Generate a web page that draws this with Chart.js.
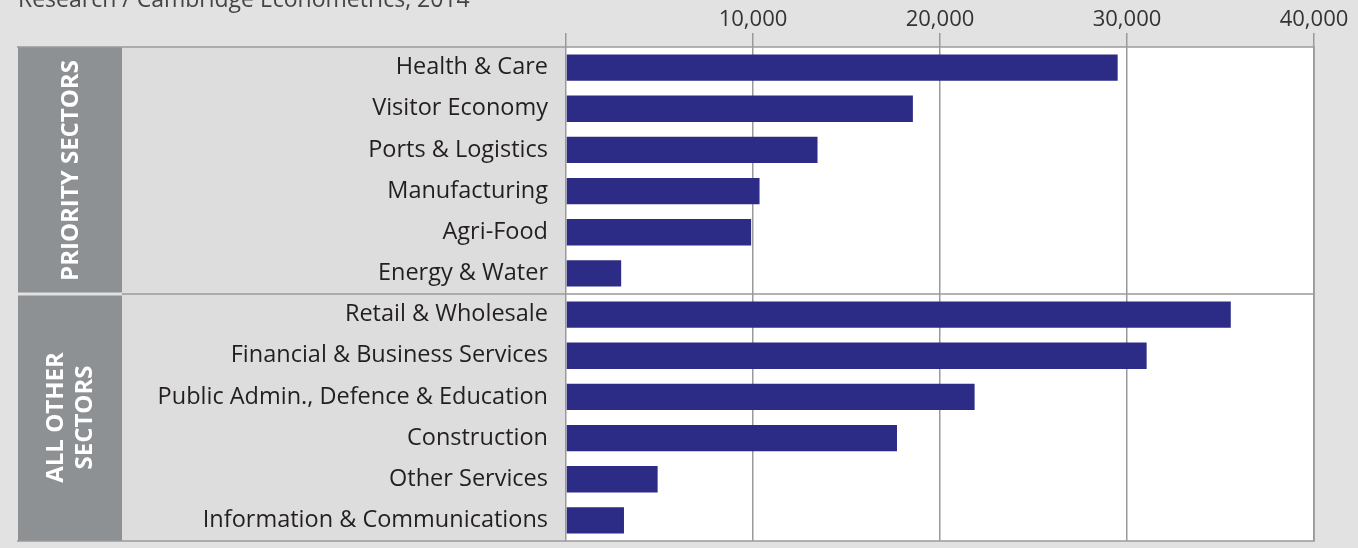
<!DOCTYPE html>
<html lang="en">
<head>
    <meta charset="UTF-8">
    <title>Employment by Sector</title>
    <script src="https://cdn.jsdelivr.net/npm/chart.js"></script>
    <style>
        body, html {
            margin: 0;
            padding: 0;
            background: #e2e2e2;
        }
        canvas { display: block; }
    </style>
</head>
<body>
    <canvas id="chart" width="1358" height="548"></canvas>

    <script>
        // Data
        const sectors = [
            'Health & Care', 'Visitor Economy', 'Ports & Logistics', 'Manufacturing',
            'Agri-Food', 'Energy & Water', 'Retail & Wholesale', 'Financial & Business Services',
            'Public Admin., Defence & Education', 'Construction', 'Other Services',
            'Information & Communications'
        ];
        const jobs = [29500, 18550, 13450, 10350, 9900, 2950, 35550, 31050, 21850, 17700, 4900, 3100];
        const groups = [['PRIORITY SECTORS'], ['ALL OTHER', 'SECTORS']];
        const groupSizes = [6, 6];
        const tickValues = [10000, 20000, 30000, 40000];

        const FONT = '"Open Sans", "Noto Sans", sans-serif';

        // Panels, frame, group labels
        const panels = {
            id: 'panels',
            beforeDraw(chart) {
                const { ctx, chartArea: a } = chart;
                ctx.save();
                ctx.fillStyle = '#e2e2e2';
                ctx.fillRect(0, 0, chart.width, chart.height);
                ctx.fillStyle = '#dddddd';
                ctx.fillRect(122, a.top, a.left - 122, a.bottom - a.top);
                ctx.fillStyle = '#8e9194';
                ctx.fillRect(18, a.top, 104, a.bottom - a.top);
                ctx.fillStyle = '#ffffff';
                ctx.fillRect(a.left, a.top, a.right - a.left, a.bottom - a.top);

                // source line, clipped at the top edge
                ctx.fillStyle = '#444';
                ctx.font = '23px ' + FONT;
                ctx.textBaseline = 'alphabetic';
                ctx.fillText('Research / Cambridge Econometrics, 2014', 18, 7);
                ctx.restore();
            },
            afterDraw(chart) {
                const { ctx, chartArea: a } = chart;
                const y = chart.scales.y;
                ctx.save();
                let start = 0;
                const bounds = [];
                groupSizes.forEach((n, i) => {
                    const top = i === 0 ? a.top : (y.getPixelForValue(start - 1) + y.getPixelForValue(start)) / 2;
                    const end = start + n;
                    const bot = end >= sectors.length ? a.bottom : (y.getPixelForValue(end - 1) + y.getPixelForValue(end)) / 2;
                    bounds.push([top, bot]);
                    start = end;
                });
                // group divider
                bounds.slice(1).forEach(([top]) => {
                    ctx.fillStyle = '#e2e2e2';
                    ctx.fillRect(18, top - 1.5, 104, 3);
                    ctx.strokeStyle = '#9a9a9a';
                    ctx.lineWidth = 1.5;
                    ctx.beginPath();
                    ctx.moveTo(122, top);
                    ctx.lineTo(a.right, top);
                    ctx.stroke();
                });
                // frame
                ctx.strokeStyle = '#9a9a9a';
                ctx.lineWidth = 1.5;
                ctx.beginPath();
                ctx.moveTo(17, a.top);
                ctx.lineTo(a.right, a.top);
                ctx.lineTo(a.right, a.bottom);
                ctx.lineTo(17, a.bottom);
                ctx.stroke();

                // rotated group labels
                ctx.fillStyle = '#ffffff';
                ctx.font = 'bold 24px ' + FONT;
                ctx.textAlign = 'center';
                ctx.textBaseline = 'middle';
                groups.forEach((lines, i) => {
                    const [top, bot] = bounds[i];
                    ctx.save();
                    ctx.translate(71, (top + bot) / 2);
                    ctx.rotate(-Math.PI / 2);
                    const lh = 29;
                    lines.forEach((t, k) => {
                        ctx.fillText(t, 0, (k - (lines.length - 1) / 2) * lh);
                    });
                    ctx.restore();
                });
                ctx.restore();
            }
        };

        new Chart(document.getElementById('chart'), {
            type: 'bar',
            data: {
                labels: sectors,
                datasets: [{
                    data: jobs,
                    backgroundColor: '#2c2b86',
                    borderWidth: 0,
                    categoryPercentage: 0.8,
                    barPercentage: 0.8
                }]
            },
            options: {
                indexAxis: 'y',
                responsive: false,
                animation: false,
                devicePixelRatio: 1,
                layout: { padding: { top: 0, right: 44, bottom: 7, left: 0 } },
                plugins: {
                    legend: { display: false },
                    tooltip: { enabled: false }
                },
                scales: {
                    x: {
                        position: 'top',
                        min: 0,
                        max: 40000,
                        afterBuildTicks(scale) {
                            scale.ticks = [0].concat(tickValues).map(v => ({ value: v }));
                        },
                        afterFit(scale) {
                            scale.height = 47;
                            scale.paddingLeft = 0;
                            scale.paddingRight = 0;
                        },
                        grid: {
                            color: '#9a9a9a',
                            lineWidth: 1.5,
                            tickLength: 14,
                            drawTicks: true
                        },
                        border: { display: false },
                        ticks: {
                            color: '#333',
                            font: { family: FONT, size: 22 },
                            padding: 0,
                            maxRotation: 0,
                            callback: v => v === 0 ? '' : v.toLocaleString('en-GB')
                        }
                    },
                    y: {
                        afterFit(scale) {
                            scale.width = 566;
                            scale.paddingTop = 0;
                            scale.paddingBottom = 0;
                        },
                        grid: { display: false, drawTicks: false },
                        border: { display: false },
                        ticks: {
                            color: '#231f20',
                            font: { family: FONT, size: 23.5 },
                            padding: 18
                        }
                    }
                }
            },
            plugins: [panels]
        });
    </script>
</body>
</html>
